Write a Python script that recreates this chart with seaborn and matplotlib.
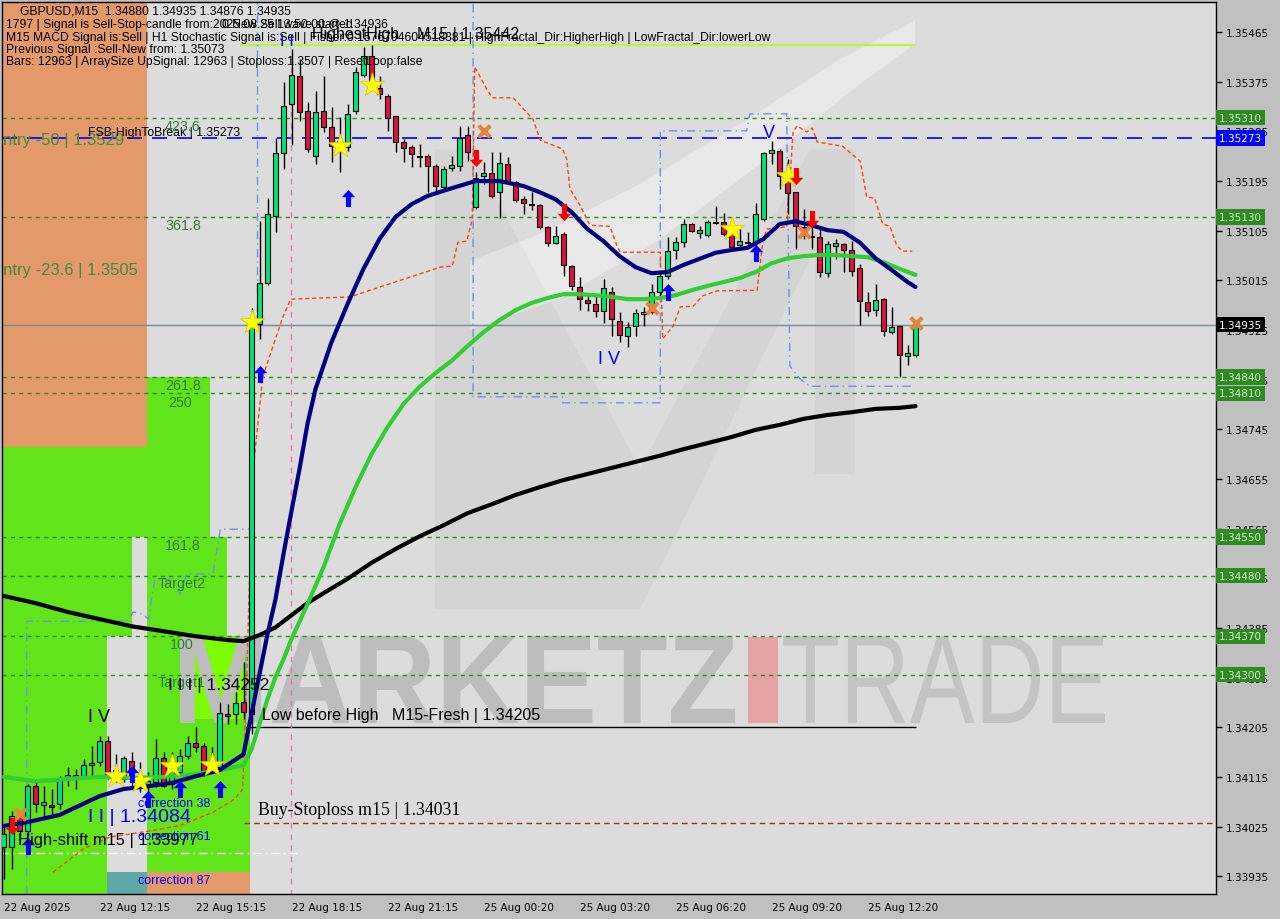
import numpy as np
import pandas as pd
import matplotlib.pyplot as plt
import seaborn as sns
from matplotlib.patches import Rectangle, PathPatch
from matplotlib.path import Path
from matplotlib.textpath import TextPath
from matplotlib.font_manager import FontProperties
from matplotlib.transforms import Affine2D, blended_transform_factory

sns.set_theme(style='white')
plt.rcParams['font.family'] = ['DejaVu Sans']

# ---------- candles (GBPUSD M15) ----------
open_ = [1.33988, 1.33988, 1.34046, 1.34017, 1.34098, 1.34064, 1.34064, 1.34066, 1.34111, 1.34115,
         1.34116, 1.34136, 1.34142, 1.34180, 1.34127, 1.34111, 1.34144, 1.34107, 1.34098, 1.34105,
         1.34149, 1.34102, 1.34124, 1.34153, 1.34176, 1.34171, 1.34140, 1.34133, 1.34229, 1.34229,
         1.34250, 1.34229, 1.34936, 1.35010, 1.35132, 1.35246, 1.35335, 1.35385, 1.35322, 1.35240,
         1.35322, 1.35293, 1.35257, 1.35257, 1.35322, 1.35387, 1.35422, 1.35364, 1.35349, 1.35313,
         1.35266, 1.35257, 1.35240, 1.35240, 1.35222, 1.35184, 1.35219, 1.35222, 1.35278, 1.35148,
         1.35204, 1.35210, 1.35175, 1.35226, 1.35193, 1.35162, 1.35154, 1.35151, 1.35112, 1.35083,
         1.35099, 1.35041, 1.35003, 1.34979, 1.34972, 1.34959, 1.34994, 1.34941, 1.34914, 1.34932,
         1.34954, 1.34957, 1.34994, 1.35023, 1.35070, 1.35084, 1.35117, 1.35101, 1.35097, 1.35119,
         1.35121, 1.35099, 1.35079, 1.35083, 1.35083, 1.35126, 1.35246, 1.35249, 1.35204, 1.35175,
         1.35112, 1.35095, 1.35093, 1.35028, 1.35077, 1.35081, 1.35070, 1.35037, 1.34976, 1.34961,
         1.34981, 1.34921, 1.34932, 1.34878, 1.34880]
high = [1.34029, 1.34053, 1.34053, 1.34102, 1.34105, 1.34098, 1.34093, 1.34116, 1.34133, 1.34129,
        1.34147, 1.34171, 1.34189, 1.34189, 1.34156, 1.34153, 1.34160, 1.34142, 1.34124, 1.34183,
        1.34160, 1.34160, 1.34165, 1.34189, 1.34205, 1.34176, 1.34169, 1.34250, 1.34247, 1.34269,
        1.34323, 1.34965, 1.35122, 1.35164, 1.35273, 1.35374, 1.35434, 1.35416, 1.35338, 1.35358,
        1.35385, 1.35329, 1.35311, 1.35335, 1.35402, 1.35438, 1.35442, 1.35385, 1.35353, 1.35313,
        1.35271, 1.35260, 1.35262, 1.35244, 1.35226, 1.35222, 1.35240, 1.35295, 1.35295, 1.35211,
        1.35229, 1.35248, 1.35248, 1.35239, 1.35195, 1.35168, 1.35175, 1.35153, 1.35113, 1.35113,
        1.35103, 1.35043, 1.35021, 1.34987, 1.34987, 1.35017, 1.35003, 1.34957, 1.34939, 1.34963,
        1.34967, 1.35008, 1.35032, 1.35093, 1.35093, 1.35126, 1.35119, 1.35113, 1.35124, 1.35150,
        1.35137, 1.35103, 1.35108, 1.35103, 1.35155, 1.35248, 1.35268, 1.35253, 1.35235, 1.35175,
        1.35144, 1.35132, 1.35113, 1.35086, 1.35090, 1.35083, 1.35086, 1.35045, 1.34994, 1.35008,
        1.34983, 1.34967, 1.34932, 1.34898, 1.34940]
low = [1.33930, 1.33948, 1.34002, 1.34008, 1.34051, 1.34038, 1.34047, 1.34057, 1.34098, 1.34093,
       1.34111, 1.34116, 1.34134, 1.34111, 1.34105, 1.34105, 1.34098, 1.34087, 1.34087, 1.34096,
       1.34096, 1.34093, 1.34116, 1.34147, 1.34160, 1.34116, 1.34124, 1.34125, 1.34211, 1.34211,
       1.34220, 1.34192, 1.34909, 1.35006, 1.35103, 1.35217, 1.35260, 1.35304, 1.35248, 1.35226,
       1.35284, 1.35229, 1.35211, 1.35249, 1.35317, 1.35384, 1.35362, 1.35344, 1.35286, 1.35248,
       1.35229, 1.35220, 1.35220, 1.35175, 1.35172, 1.35181, 1.35213, 1.35213, 1.35231, 1.35144,
       1.35190, 1.35164, 1.35128, 1.35190, 1.35157, 1.35135, 1.35142, 1.35108, 1.35077, 1.35081,
       1.35023, 1.34997, 1.34961, 1.34959, 1.34948, 1.34938, 1.34914, 1.34903, 1.34894, 1.34914,
       1.34932, 1.34954, 1.34987, 1.35017, 1.35054, 1.35075, 1.35103, 1.35092, 1.35093, 1.35117,
       1.35095, 1.35072, 1.35075, 1.35077, 1.35077, 1.35122, 1.35226, 1.35181, 1.35135, 1.35072,
       1.35090, 1.35072, 1.35021, 1.35021, 1.35054, 1.35030, 1.35023, 1.34934, 1.34950, 1.34950,
       1.34914, 1.34918, 1.34840, 1.34861, 1.34876]
close = [1.34011, 1.34044, 1.34017, 1.34098, 1.34066, 1.34069, 1.34060, 1.34111, 1.34118, 1.34118,
         1.34136, 1.34140, 1.34180, 1.34116, 1.34120, 1.34149, 1.34116, 1.34104, 1.34107, 1.34149,
         1.34098, 1.34133, 1.34153, 1.34176, 1.34169, 1.34125, 1.34144, 1.34230, 1.34225, 1.34249,
         1.34232, 1.34936, 1.35010, 1.35135, 1.35246, 1.35331, 1.35387, 1.35320, 1.35253, 1.35320,
         1.35293, 1.35259, 1.35268, 1.35317, 1.35393, 1.35422, 1.35365, 1.35353, 1.35309, 1.35266,
         1.35255, 1.35244, 1.35239, 1.35222, 1.35186, 1.35217, 1.35224, 1.35273, 1.35248, 1.35200,
         1.35210, 1.35168, 1.35228, 1.35195, 1.35161, 1.35155, 1.35152, 1.35112, 1.35083, 1.35095,
         1.35043, 1.35005, 1.34981, 1.34974, 1.34959, 1.35001, 1.34945, 1.34916, 1.34930, 1.34956,
         1.34957, 1.34994, 1.35023, 1.35068, 1.35084, 1.35117, 1.35104, 1.35106, 1.35121, 1.35121,
         1.35099, 1.35075, 1.35086, 1.35084, 1.35135, 1.35246, 1.35251, 1.35204, 1.35173, 1.35113,
         1.35108, 1.35093, 1.35030, 1.35081, 1.35083, 1.35070, 1.35032, 1.34977, 1.34959, 1.34979,
         1.34923, 1.34930, 1.34880, 1.34883, 1.34935]

time_ticks = [0, 12, 24, 36, 48, 60, 72, 84, 96, 108]
time_labels = ['22 Aug 2025', '22 Aug 12:15', '22 Aug 15:15', '22 Aug 18:15', '22 Aug 21:15',
               '25 Aug 00:20', '25 Aug 03:20', '25 Aug 06:20', '25 Aug 09:20', '25 Aug 12:20']

# ---------- moving averages ----------
ma_fast_x = [0, 3, 7, 12, 15, 18, 21, 24, 27, 30, 31, 32, 33, 34, 35, 36, 37, 38, 39, 41, 43, 45, 47,
             49, 51, 53, 56, 59, 62, 65, 67, 69, 71, 73, 75, 77, 79, 81, 83, 85, 87, 89, 91, 93, 95,
             97, 99, 101, 103, 105, 107, 109, 111, 113, 114]
ma_fast_y = [1.34026, 1.34033, 1.34046, 1.34080, 1.34093, 1.34098, 1.34104, 1.34116, 1.34127, 1.34156,
             1.34229, 1.34301, 1.34374, 1.34437, 1.34519, 1.34597, 1.34673, 1.34755, 1.34818, 1.34903,
             1.34972, 1.35036, 1.35090, 1.35130, 1.35153, 1.35168, 1.35182, 1.35195, 1.35195, 1.35186,
             1.35175, 1.35162, 1.35139, 1.35108, 1.35086, 1.35059, 1.35039, 1.35028, 1.35030, 1.35043,
             1.35054, 1.35065, 1.35070, 1.35074, 1.35090, 1.35117, 1.35122, 1.35115, 1.35106, 1.35103,
             1.35084, 1.35055, 1.35034, 1.35012, 1.35003]
ma_mid_x = [0, 4, 8, 12, 16, 20, 24, 27, 30, 31, 32, 33, 34, 35, 36, 38, 40, 42, 44, 46, 48, 50, 52,
            54, 56, 58, 60, 62, 64, 66, 68, 70, 72, 74, 76, 78, 80, 82, 84, 86, 88, 90, 92, 94, 96,
            98, 100, 102, 104, 106, 108, 110, 112, 114]
ma_mid_y = [1.34115, 1.34107, 1.34111, 1.34115, 1.34113, 1.34115, 1.34120, 1.34127, 1.34136, 1.34165,
            1.34211, 1.34256, 1.34296, 1.34328, 1.34365, 1.34428, 1.34495, 1.34573, 1.34640, 1.34700,
            1.34749, 1.34791, 1.34822, 1.34847, 1.34869, 1.34896, 1.34921, 1.34943, 1.34961, 1.34974,
            1.34983, 1.34990, 1.34990, 1.34988, 1.34985, 1.34981, 1.34981, 1.34983, 1.34988, 1.34997,
            1.35005, 1.35012, 1.35019, 1.35030, 1.35046, 1.35055, 1.35059, 1.35061, 1.35061, 1.35059,
            1.35057, 1.35048, 1.35036, 1.35025]
ma_slow_x = [0, 4, 8, 12, 16, 20, 24, 28, 30, 32, 34, 36, 38, 40, 43, 46, 49, 52, 55, 58, 61, 64, 67,
             70, 73, 76, 79, 82, 85, 88, 91, 94, 97, 100, 103, 106, 109, 112, 114]
ma_slow_y = [1.34443, 1.34430, 1.34414, 1.34401, 1.34388, 1.34379, 1.34370, 1.34363, 1.34361, 1.34372,
             1.34386, 1.34408, 1.34430, 1.34448, 1.34474, 1.34503, 1.34528, 1.34551, 1.34571, 1.34593,
             1.34609, 1.34626, 1.34640, 1.34653, 1.34664, 1.34675, 1.34686, 1.34697, 1.34709, 1.34720,
             1.34731, 1.34744, 1.34753, 1.34764, 1.34771, 1.34776, 1.34782, 1.34784, 1.34787]

# trailing stop line (orange dashed)
trail_x = [6.2, 9.9, 13.3, 18.3, 22.1, 26.2, 28.9, 29.9, 30.4, 31.1, 32.4, 34.9, 35.9, 43.3, 54.6,
           56.1, 56.8, 57.9, 58.6, 58.9, 60.4, 61.1, 63.7, 66.2, 67.1, 69.9, 70.4, 70.8, 72.1, 73.3,
           75.8, 76.7, 77.1, 82.1, 82.4, 83.7, 84.6, 86.2, 87.4, 89.2, 94.2, 94.9, 95.4, 97.9, 98.7,
           99.2, 100.4, 101.1, 101.7, 104.9, 107.1, 107.9, 108.9, 109.9, 110.8, 111.7, 112.4, 113.6]
trail_y = [1.33942, 1.33984, 1.34006, 1.34017, 1.34027, 1.34051, 1.34075, 1.34093, 1.34292, 1.34657,
           1.34840, 1.34948, 1.34981, 1.34985, 1.35039, 1.35041, 1.35084, 1.35086, 1.35126, 1.35402,
           1.35362, 1.35346, 1.35346, 1.35307, 1.35269, 1.35253, 1.35235, 1.35181, 1.35150, 1.35115,
           1.35113, 1.35077, 1.35066, 1.35066, 1.34909, 1.34932, 1.34967, 1.34968, 1.34987, 1.34996,
           1.34997, 1.35084, 1.35108, 1.35112, 1.35284, 1.35295, 1.35284, 1.35291, 1.35266, 1.35258,
           1.35231, 1.35166, 1.35164, 1.35117, 1.35113, 1.35077, 1.35068, 1.35068]

# wave boxes (blue dash-dot)
box_r_x = [58.7, 58.7, 69.9, 69.9, 82.1, 82.1, 92.9, 93.3, 97.9, 98.3, 99.6, 100.8, 113.9]
box_r_y = [1.35516, 1.34804, 1.34804, 1.34793, 1.34793, 1.35286, 1.35286, 1.35317, 1.35317, 1.34860,
           1.34836, 1.34823, 1.34823]
box_l_x = [2.9, 2.9, 15.4, 16.2, 17.4, 18.1, 18.9, 20.8, 22.1, 22.9, 26.2, 27.1, 30.8]
box_l_y = [1.33902, 1.34397, 1.34397, 1.34414, 1.34410, 1.34401, 1.34473, 1.34473, 1.34446, 1.34483,
           1.34483, 1.34564, 1.34564]

# signal markers
star_x = [14, 17, 21, 26, 31, 42, 46, 91, 98]
star_y = [1.34116, 1.34107, 1.34134, 1.34136, 1.34939, 1.35258, 1.35369, 1.35108, 1.35204]
up_x = [3, 16, 18, 22, 27, 32, 43, 83, 94]
up_y = [1.33989, 1.34120, 1.34075, 1.34093, 1.34093, 1.34845, 1.35164, 1.34994, 1.35065]
down_x = [1, 59, 70, 99, 101]
down_y = [1.34026, 1.35237, 1.35139, 1.35204, 1.35126]
cross_x = [2, 60, 81, 100, 114]
cross_y = [1.34047, 1.35286, 1.34965, 1.35103, 1.34938]

# price levels
green_levels = [1.35310, 1.35130, 1.34840, 1.34810, 1.34550, 1.34480, 1.34370, 1.34300]
fsb_level = 1.35273
last_price = 1.34935
highest_high = 1.35442
low_before_high = 1.34205
buy_stoploss = 1.34031
high_shift = 1.33977

GREEN = '#00E676'
RED = '#DC143C'
LEVEL_GREEN = '#2E8B22'
W, H = 1280, 920

fig = plt.figure(figsize=(W / 100, H / 100), dpi=100, facecolor='#c0c0c0')
ax = fig.add_axes([2 / W, 25 / H, 1214 / W, 892 / H])
ax.set_facecolor('#dcdcdc')
ax.set_xlim(-0.1875, 151.5625)
ax.set_ylim(1.339027, 1.355196)


def fr(x, y):
    # pixel position -> axes fraction
    return (x - 2) / 1214, (895 - y) / 892


def block(x0, y0, x1, y1, color, z=0.5, alpha=1.0):
    a, b = fr(x0, y1)
    c, d = fr(x1, y0)
    ax.add_patch(Rectangle((a, b), c - a, d - b, transform=ax.transAxes,
                           facecolor=color, edgecolor='none', zorder=z, alpha=alpha))


def shape(pts, color, z=0.3, alpha=1.0):
    ax.add_patch(plt.Polygon([fr(*p) for p in pts], closed=True, transform=ax.transAxes,
                             facecolor=color, edgecolor='none', zorder=z, alpha=alpha))


def label(x, y, s, size=8, color='black', family='Liberation Sans', **kw):
    ax.text(*fr(x, y), s, transform=ax.transAxes, fontsize=size, color=color,
            family=family, va='center', ha='left', zorder=9, clip_on=True, **kw)


def stamp(s, x0, x1, ytop, ybot, color, weight='bold', z=0.8, alpha=1.0):
    tp = TextPath((0, 0), s, size=100, prop=FontProperties(family='Liberation Sans', weight=weight))
    bb = tp.get_extents()
    tr = (Affine2D().translate(-bb.x0, -bb.y0)
          .scale((x1 - x0) / bb.width, (ybot - ytop) / bb.height)
          .translate(x0, H - ybot))
    ax.add_patch(PathPatch(tp, transform=tr, facecolor=color, edgecolor='none',
                           zorder=z, alpha=alpha, clip_on=True, clip_box=ax.bbox))


# ---------- watermark ----------
shape([(435, 610), (435, 150), (470, 150), (640, 470), (810, 150), (855, 150), (855, 475),
       (815, 475), (815, 250), (640, 610)], '#d4d4d4')
shape([(470, 330), (560, 300), (660, 240), (760, 165), (860, 85), (915, 45), (915, 22),
       (840, 60), (740, 125), (640, 185), (540, 235), (470, 262)], 'white', z=0.35, alpha=0.35)
stamp('MARKETZ', 180, 735, 637, 724, '#bdbdbd', z=0.6)
block(748, 638, 778, 724, '#e6a3a3', z=0.6)
stamp('TRADE', 783, 1105, 637, 724, '#c4c4c4', weight='normal', z=0.6)

# ---------- coloured zones on the left ----------
block(0, 0, 147, 448, '#E4996A')
block(0, 448, 147, 538, '#62E41A')
block(0, 538, 132, 637, '#62E41A')
block(0, 637, 107, 895, '#62E41A')
block(147, 378, 210, 538, '#62E41A')
block(147, 538, 227, 637, '#62E41A')
block(147, 637, 250, 873, '#62E41A')
block(180, 640, 245, 720, '#7CFC00')
block(107, 873, 147, 895, '#5FA8A8')
block(147, 873, 250, 895, '#E4996A')

# ---------- levels ----------
for lv in green_levels:
    ax.axhline(lv, color=LEVEL_GREEN, lw=1, ls=(0, (3, 3)), zorder=1)
ax.axhline(fsb_level, color='#0000FF', lw=1.2, ls=(0, (9, 6)), zorder=1)
ax.axhline(last_price, color='#778899', lw=1, zorder=1)
ax.hlines(highest_high, 29.6, 114, color='#ADFF2F', lw=1.5, zorder=1)
ax.hlines(low_before_high, 30.2, 114, color='black', lw=1, zorder=1)
ax.hlines(buy_stoploss, 30, 152, color='#B22222', lw=1, ls=(0, (4, 3)), zorder=1)
ax.hlines(high_shift, -0.5, 36.8, color='white', lw=1, ls=(0, (6, 3, 1, 3)), zorder=1)
ax.vlines(31.7, 1.34927, 1.3552, color='#6495ED', lw=1, ls=(0, (6, 3, 1, 3)), zorder=1)
ax.vlines(35.9, 1.3390, 1.3541, color='#FF69B4', lw=1, ls=(0, (4, 4)), zorder=1)

ax.plot(box_r_x, box_r_y, color='#6495ED', lw=1, ls=(0, (6, 3, 1, 3)), zorder=2)
ax.plot(box_l_x, box_l_y, color='#6495ED', lw=1, ls=(0, (6, 3, 1, 3)), zorder=2)
ax.plot(trail_x, trail_y, color='#FF4500', lw=1, ls=(0, (3, 2)), zorder=2)

# ---------- candles ----------
df = pd.DataFrame({'o': open_, 'h': high, 'l': low, 'c': close})
df['i'] = np.arange(len(df))
up = df['c'] >= df['o']
body_lo = df[['o', 'c']].min(axis=1)
body_h = (df['c'] - df['o']).abs().clip(lower=0.00002)
ax.vlines(df['i'], df['l'], df['h'], color='black', lw=1, zorder=4)
ax.bar(df['i'], body_h, bottom=body_lo, width=0.62, color=np.where(up, GREEN, RED),
       edgecolor='black', linewidth=0.8, zorder=5)

# ---------- moving averages ----------
sns.lineplot(x=ma_slow_x, y=ma_slow_y, color='black', lw=3, ax=ax, zorder=6, estimator=None)
sns.lineplot(x=ma_mid_x, y=ma_mid_y, color='#32CD32', lw=3, ax=ax, zorder=6, estimator=None)
sns.lineplot(x=ma_fast_x, y=ma_fast_y, color='#000080', lw=3, ax=ax, zorder=7, estimator=None)

# ---------- signal markers ----------
arrow_up = Path([(0, 1), (-0.8, 0.15), (-0.3, 0.15), (-0.3, -1), (0.3, -1), (0.3, 0.15),
                 (0.8, 0.15), (0, 1)], closed=True)
arrow_dn = Path([(x, -y) for x, y in arrow_up.vertices], closed=True)
ax.scatter(star_x, star_y, marker='*', s=330, color='#FFFF00', edgecolor='#E0C000', lw=0.5, zorder=8)
ax.scatter(cross_x, cross_y, marker='x', s=70, color='#E8823A', lw=3, zorder=8)
ax.scatter(up_x, up_y, marker=arrow_up, s=150, color='#0000FF', lw=0, zorder=8)
ax.scatter(down_x, down_y, marker=arrow_dn, s=150, color='#FF0000', lw=0, zorder=8)

# ---------- texts ----------
HS = 8.7
label(20, 12, 'GBPUSD,M15  1.34880 1.34935 1.34876 1.34935', HS)
label(6, 25, '1797 | Signal is Sell-Stop-candle from:2025.08.25 13:50:00 @ 1.34936', HS)
label(222, 25, '0 New Sell wave started', HS)
label(6, 38, 'M15 MACD Signal is:Sell | H1 Stochastic Signal is:Sell | Fisher:0.1576794604518381 | '
             'HighFractal_Dir:HigherHigh | LowFractal_Dir:lowerLow', HS)
label(6, 50, 'Previous Signal :Sell-New from: 1.35073', HS)
label(6, 62, 'Bars: 12963 | ArraySize UpSignal: 12963 | Stoploss:1.3507 | ResetLoop:false', HS)
label(312, 34, 'HighestHigh    M15 | 1.35442', 11.5)
label(280, 42, 'I I', 12, '#0000FF')

label(-8, 140, 'Entry -50 | 1.3529', 12, '#3C8C3C')
label(-8, 271, 'Entry -23.6 | 1.3505', 12, '#3C8C3C')
label(88, 133, 'FSB-HighToBreak | 1.35273', 8.8)
for s, x, y in [('423.6', 165, 127), ('361.8', 165, 226), ('261.8', 165, 386), ('250', 168, 403),
                ('161.8', 165, 546), ('Target2', 158, 584), ('100', 170, 645), ('Target1', 158, 683)]:
    label(x, y, s, 10.3, '#2F7D32')

label(598, 360, 'I V', 13, '#0000FF')
label(763, 133, 'V', 13, '#0000FF')
label(88, 718, 'I V', 13)
label(168, 686, 'I I I | 1.34252', 12.5)
label(88, 818, 'I I | 1.34084', 14, '#0000FF')
label(18, 841, 'High-shift m15 | 1.33977', 11.9)
label(138, 804, 'correction 38', 9, '#0000FF')
label(138, 837, 'correction 61', 9, '#0000FF')
label(138, 881, 'correction 87', 9, '#0000FF')
label(262, 716, 'Low before High   M15-Fresh | 1.34205', 11.5)
label(258, 811, 'Buy-Stoploss m15 | 1.34031', 12.8, family='Liberation Serif')

# ---------- axes ----------
ax.yaxis.tick_right()
yt = np.round(np.arange(1.33935, 1.3547, 0.0009), 5)
ax.set_yticks(yt)
ax.set_yticklabels([f'{v:.5f}' for v in yt])
ax.set_xticks(time_ticks)
ax.set_xticklabels(time_labels, ha='left')
ax.tick_params(axis='both', which='major', length=4, width=1, color='black', labelsize=7.5,
               labelcolor='black', direction='out', pad=2)
ax.tick_params(axis='y', pad=3)
for sp in ax.spines.values():
    sp.set_color('black')
    sp.set_linewidth(1)
    sp.set_visible(True)

yx = blended_transform_factory(ax.transAxes, ax.transData)
tag = dict(transform=yx, fontsize=7.5, va='center', ha='left', zorder=10, clip_on=False)
for lv in green_levels:
    ax.text(1.0025, lv, f'{lv:.5f}', color='#D8F0D0',
            bbox=dict(boxstyle='square,pad=0.25', fc=LEVEL_GREEN, ec='none'), **tag)
ax.text(1.0025, fsb_level, f'{fsb_level:.5f}', color='white',
        bbox=dict(boxstyle='square,pad=0.25', fc='#0000FF', ec='none'), **tag)
ax.text(1.0025, last_price, f'{last_price:.5f}', color='white',
        bbox=dict(boxstyle='square,pad=0.25', fc='black', ec='none'), **tag)

fig.savefig('out.png', dpi=100, facecolor=fig.get_facecolor())
